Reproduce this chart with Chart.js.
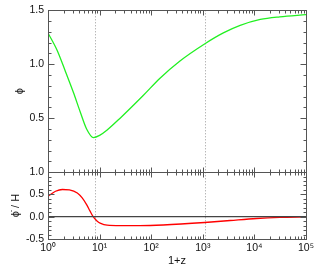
<!DOCTYPE html>
<html>
<head>
<meta charset="UTF-8">
<title>phi vs 1+z</title>
<script src="https://cdn.jsdelivr.net/npm/chart.js@4/dist/chart.umd.min.js"></script>
<style>
  html, body { margin: 0; padding: 0; background: #fff; }
  canvas { display: block; }
</style>
</head>
<body>
<canvas id="chart" width="319" height="266"></canvas>
<script>
// data
var zPhi = [1, 1.5, 2.15, 3.1, 4.2, 5.6, 7.6, 10, 14, 25, 70, 148, 361, 1100, 2500, 5300, 13000, 31000, 100000];
var phiVals = [1.29, 1.13, 0.94, 0.74, 0.56, 0.40, 0.32, 0.34, 0.39, 0.50, 0.71, 0.87, 1.03, 1.19, 1.29, 1.36, 1.415, 1.44, 1.46];

var zDot = [1, 1.4, 1.9, 2.6, 3.7, 4.6, 5.6, 6.5, 7.5, 9, 10.5, 14, 25, 60, 170, 1090, 3400, 11000, 31000, 100000];
var phiDotVals = [0.46, 0.57, 0.61, 0.60, 0.53, 0.42, 0.27, 0.13, 0.0, -0.10, -0.15, -0.19, -0.20, -0.20, -0.186, -0.13, -0.085, -0.04, -0.016, -0.005];

var zeroLine = [0, 0];
var zeroLineX = [1, 100000];

// dotted markers
var markerZ = [8, 1090];

// tick labels
var xTickValues = [1, 10, 100, 1000, 10000, 100000];
var xTickLabels = ['10\u2070', '10\u00b9', '10\u00b2', '10\u00b3', '10\u2074', '10\u2075'];
var yTopTicks = [0.5, 1.0, 1.5];
var yBotTicks = [-0.5, 0.0, 0.5, 1.0];

var AXIS_COLOR = '#555';
var TEXT_COLOR = '#111';
var FONT = '"Liberation Sans", Arial, sans-serif';

function toPoints(xs, ys) {
    return xs.map(function(x, i) { return {x: x, y: ys[i]}; });
}

function isDecade(v) {
    var l = Math.log10(v);
    return Math.abs(l - Math.round(l)) < 1e-9;
}

// markers (dotted verticals across both panels)
var markerPlugin = {
    id: 'markers',
    beforeDatasetsDraw: function(chart) {
        var ctx = chart.ctx, x = chart.scales.x, area = chart.chartArea;
        ctx.save();
        ctx.strokeStyle = '#999';
        ctx.lineWidth = 1;
        ctx.setLineDash([1, 2]);
        markerZ.forEach(function(z) {
            var px = Math.round(x.getPixelForValue(z)) + 0.5;
            ctx.beginPath();
            ctx.moveTo(px, area.top);
            ctx.lineTo(px, area.bottom);
            ctx.stroke();
        });
        ctx.restore();
    }
};

// IDL-style frame with inward ticks on every side of each panel
var framePlugin = {
    id: 'frame',
    afterDatasetsDraw: function(chart) {
        var ctx = chart.ctx, x = chart.scales.x;
        var panels = [chart.scales.yTop, chart.scales.yBot];
        ctx.save();
        ctx.strokeStyle = AXIS_COLOR;
        ctx.lineWidth = 1;

        function seg(x1, y1, x2, y2) {
            ctx.beginPath();
            ctx.moveTo(x1, y1);
            ctx.lineTo(x2, y2);
            ctx.stroke();
        }

        var xMinor = [];
        for (var e = 0; e < 5; e++) {
            for (var m = 1; m < 10; m++) xMinor.push(m * Math.pow(10, e));
        }
        xMinor.push(100000);

        panels.forEach(function(y) {
            var l = Math.round(x.left) + 0.5, r = Math.round(x.right) + 0.5;
            var t = Math.round(y.top) + 0.5, b = Math.round(y.bottom) + 0.5;
            ctx.strokeRect(l, t, r - l, b - t);

            xMinor.forEach(function(v) {
                var px = Math.round(x.getPixelForValue(v)) + 0.5;
                var len = isDecade(v) ? 5 : 3;
                seg(px, t, px, t + len);
                seg(px, b, px, b - len);
            });

            var n = Math.round((y.max - y.min) / 0.1);
            for (var i = 0; i <= n; i++) {
                var v = y.min + i * 0.1;
                var py = Math.round(y.getPixelForValue(v)) + 0.5;
                var major = Math.abs(v * 2 - Math.round(v * 2)) < 1e-6;
                var len2 = major ? 6 : 3;
                seg(l, py, l + len2, py);
                seg(r, py, r - len2, py);
            }
        });
        ctx.restore();
    }
};

var ctx = document.getElementById('chart').getContext('2d');
new Chart(ctx, {
    type: 'line',
    data: {
        datasets: [
            {
                data: toPoints(zPhi, phiVals),
                yAxisID: 'yTop',
                borderColor: '#22f022',
                borderWidth: 1.3,
                pointRadius: 0,
                cubicInterpolationMode: 'monotone'
            },
            {
                data: toPoints(zeroLineX, zeroLine),
                yAxisID: 'yBot',
                borderColor: '#444',
                borderWidth: 1.3,
                pointRadius: 0
            },
            {
                data: toPoints(zDot, phiDotVals),
                yAxisID: 'yBot',
                borderColor: '#ff0000',
                borderWidth: 1.3,
                pointRadius: 0,
                cubicInterpolationMode: 'monotone'
            }
        ]
    },
    options: {
        responsive: false,
        animation: false,
        events: [],
        layout: { padding: { left: 0, right: 13, top: 10, bottom: 0 } },
        plugins: { legend: { display: false }, tooltip: { enabled: false } },
        scales: {
            x: {
                type: 'logarithmic',
                min: 1,
                max: 100000,
                grid: { display: false, drawTicks: false },
                border: { display: false },
                afterBuildTicks: function(s) {
                    s.ticks = xTickValues.map(function(v) { return {value: v}; });
                },
                afterFit: function(s) { s.height = 27; },
                ticks: {
                    autoSkip: false,
                    maxRotation: 0,
                    padding: 3,
                    color: TEXT_COLOR,
                    font: { family: FONT, size: 10.5 },
                    callback: function(v, i) { return xTickLabels[i]; }
                },
                title: {
                    display: true,
                    text: '1+z',
                    color: TEXT_COLOR,
                    font: { family: FONT, size: 11, lineHeight: 1 },
                    padding: { top: 0, bottom: 0 }
                }
            },
            // bottom panel listed first: the stack is filled from the bottom up
            yBot: {
                type: 'linear',
                position: 'left',
                stack: 'panels',
                stackWeight: 67,
                min: -0.5,
                max: 1.0,
                grid: { display: false, drawTicks: false },
                border: { display: false },
                afterBuildTicks: function(s) {
                    s.ticks = yBotTicks.map(function(v) { return {value: v}; });
                },
                afterFit: function(s) { s.width = 48; },
                ticks: {
                    autoSkip: false,
                    padding: 4,
                    color: TEXT_COLOR,
                    font: { family: FONT, size: 10.5 },
                    callback: function(v) { return v.toFixed(1); }
                },
                title: {
                    display: true,
                    text: '\u03d5\u0307 / H',
                    color: TEXT_COLOR,
                    font: { family: FONT, size: 11 },
                    padding: { top: 9, bottom: 0 }
                }
            },
            yTop: {
                type: 'linear',
                position: 'left',
                stack: 'panels',
                stackWeight: 162,
                min: 0,
                max: 1.5,
                grid: { display: false, drawTicks: false },
                border: { display: false },
                afterBuildTicks: function(s) {
                    s.ticks = yTopTicks.map(function(v) { return {value: v}; });
                },
                afterFit: function(s) { s.width = 48; },
                ticks: {
                    autoSkip: false,
                    padding: 4,
                    color: TEXT_COLOR,
                    font: { family: FONT, size: 10.5 },
                    callback: function(v) { return v.toFixed(1); }
                },
                title: {
                    display: true,
                    text: '\u03d5',
                    color: TEXT_COLOR,
                    font: { family: FONT, size: 11 },
                    padding: { top: 13, bottom: 0 }
                }
            }
        }
    },
    plugins: [markerPlugin, framePlugin]
});
</script>
</body>
</html>
